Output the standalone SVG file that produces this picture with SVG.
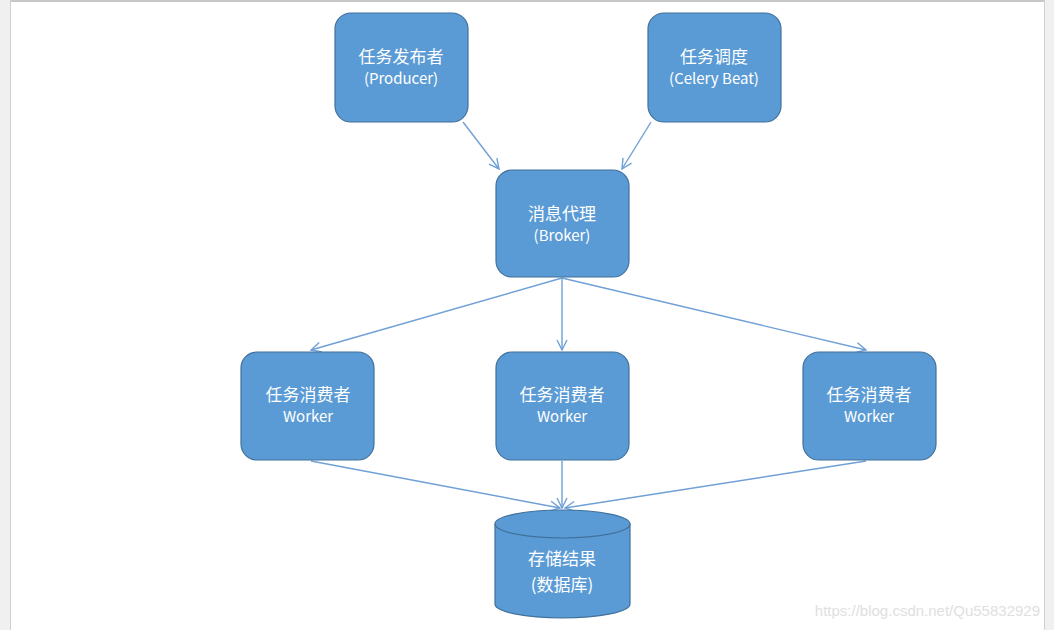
<svg xmlns="http://www.w3.org/2000/svg" width="1054" height="630" viewBox="0 0 1054 630">
<style>
.n{fill:#5b9bd5;stroke:#41719c;stroke-width:1.2}
.t{fill:#fff;font-family:"Noto Sans CJK SC","Noto Sans",sans-serif;font-size:17px;text-anchor:middle}
.s{font-size:15px}
.c{stroke:#6fa0d6;stroke-width:1.4;fill:none;marker-end:url(#a)}
</style>
<defs><marker id="a" markerWidth="14" markerHeight="14" refX="11" refY="6" orient="auto" markerUnits="userSpaceOnUse"><path d="M1,1 L11,6 L1,11" fill="none" stroke="#6fa0d6" stroke-width="1.4"/></marker></defs>
<rect width="1054" height="630" fill="#fff"/>
<rect x="0" y="0" width="10" height="630" fill="#f0f0f0"/>
<rect x="1045" y="0" width="9" height="630" fill="#f0f0f0"/>
<line x1="10" y1="1" x2="1045" y2="1" stroke="#c8c8c8" stroke-width="2"/>
<line x1="10.5" y1="0" x2="10.5" y2="630" stroke="#d0d0d0"/>
<line x1="1044.5" y1="0" x2="1044.5" y2="630" stroke="#d0d0d0"/>
<g id="connectors">
<line class="c" x1="463" y1="122" x2="499" y2="169"/>
<line class="c" x1="651" y1="122" x2="622" y2="169"/>
<line class="c" x1="562" y1="278" x2="311" y2="350"/>
<line class="c" x1="562" y1="278" x2="562" y2="350"/>
<line class="c" x1="562" y1="278" x2="866" y2="350"/>
<line class="c" x1="311" y1="461" x2="560" y2="508"/>
<line class="c" x1="562" y1="461" x2="562" y2="508"/>
<line class="c" x1="866" y1="461" x2="565" y2="508"/>
</g>
<g id="producer"><rect class="n" x="335" y="13" width="133" height="109" rx="16"/><text class="t" x="401" y="63">任务发布者</text><text class="t s" x="401" y="84">(Producer)</text></g>
<g id="beat"><rect class="n" x="648" y="13" width="133" height="109" rx="16"/><text class="t" x="714" y="63">任务调度</text><text class="t s" x="714" y="84">(Celery Beat)</text></g>
<g id="broker"><rect class="n" x="496" y="170" width="133" height="107" rx="16"/><text class="t" x="562" y="220">消息代理</text><text class="t s" x="562" y="241">(Broker)</text></g>
<g id="worker1"><rect class="n" x="241" y="352" width="133" height="108" rx="16"/><text class="t" x="308" y="401">任务消费者</text><text class="t s" x="308" y="422">Worker</text></g>
<g id="worker2"><rect class="n" x="496" y="352" width="133" height="108" rx="16"/><text class="t" x="562" y="401">任务消费者</text><text class="t s" x="562" y="422">Worker</text></g>
<g id="worker3"><rect class="n" x="803" y="352" width="133" height="108" rx="16"/><text class="t" x="869" y="401">任务消费者</text><text class="t s" x="869" y="422">Worker</text></g>
<g id="db"><path class="n" d="M495,524 A67.5,14 0 0 1 630,524 L630,604 A67.5,14 0 0 1 495,604 Z"/><path d="M495,524 A67.5,14 0 0 0 630,524" fill="none" stroke="#41719c" stroke-width="1.2"/><text class="t" x="562" y="565">存储结果</text><text class="t" x="562" y="591">(数据库)</text></g>
<text x="1040" y="616" font-family="Liberation Sans,sans-serif" font-size="15" fill="#e0e0e0" text-anchor="end">https://blog.csdn.net/Qu55832929</text>
</svg>
